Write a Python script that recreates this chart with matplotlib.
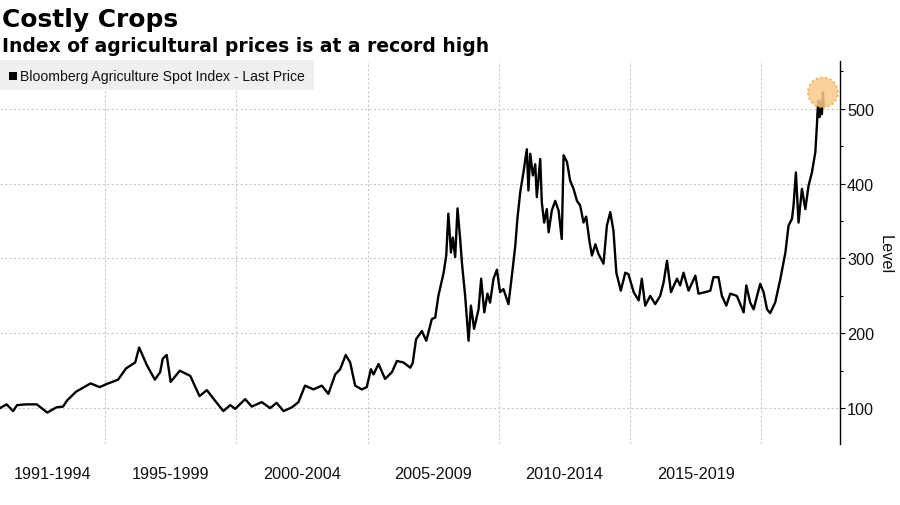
import numpy as np
import matplotlib.pyplot as plt
from matplotlib.patches import Rectangle

# Bloomberg Agriculture Spot Index (decimal year, level)
years = [1991.0, 1991.25, 1991.5, 1991.65, 1992.0, 1992.4, 1992.8, 1993.15, 1993.4, 1993.55,
         1993.9, 1994.3, 1994.45, 1994.8, 1995.05, 1995.5, 1995.8, 1996.15, 1996.3, 1996.6,
         1996.9, 1997.1, 1997.2, 1997.35, 1997.5, 1997.85, 1998.25, 1998.6, 1998.88, 1999.19,
         1999.51, 1999.77, 1999.96, 2000.34, 2000.59, 2000.97, 2001.29, 2001.54, 2001.8, 2002.12,
         2002.37, 2002.62, 2002.94, 2003.26, 2003.51, 2003.77, 2003.96, 2004.17, 2004.34, 2004.53,
         2004.78, 2004.97, 2005.13, 2005.23, 2005.42, 2005.67, 2005.93, 2006.12, 2006.37, 2006.63,
         2006.72, 2006.85, 2007.07, 2007.24, 2007.45, 2007.58, 2007.7, 2007.9, 2008.0, 2008.08,
         2008.18, 2008.25, 2008.34, 2008.43, 2008.53, 2008.6, 2008.72, 2008.79, 2008.85, 2008.94,
         2009.06, 2009.23, 2009.33, 2009.45, 2009.57, 2009.67, 2009.8, 2009.93, 2010.05, 2010.18,
         2010.37, 2010.5, 2010.63, 2010.71, 2010.82, 2010.94, 2011.07, 2011.13, 2011.2, 2011.3,
         2011.39, 2011.45, 2011.58, 2011.64, 2011.73, 2011.83, 2011.9, 2012.02, 2012.15, 2012.28,
         2012.4, 2012.47, 2012.6, 2012.72, 2012.85, 2012.98, 2013.1, 2013.23, 2013.33, 2013.46,
         2013.55, 2013.68, 2013.8, 2013.99, 2014.12, 2014.25, 2014.37, 2014.48, 2014.65, 2014.82,
         2014.94, 2015.14, 2015.33, 2015.45, 2015.58, 2015.77, 2015.96, 2016.15, 2016.28, 2016.41,
         2016.56, 2016.79, 2016.91, 2017.04, 2017.23, 2017.49, 2017.61, 2017.87, 2018.06, 2018.18,
         2018.37, 2018.5, 2018.67, 2018.82, 2019.07, 2019.33, 2019.43, 2019.58, 2019.71, 2019.84,
         2019.96, 2020.09, 2020.22, 2020.34, 2020.53, 2020.73, 2020.92, 2021.04, 2021.17, 2021.23,
         2021.32, 2021.42, 2021.55, 2021.68, 2021.8, 2021.93, 2022.06, 2022.12, 2022.15, 2022.19,
         2022.22, 2022.28, 2022.31, 2022.35, 2022.38]
index_level = [100, 105, 96, 104, 105, 105, 94, 101, 102, 110,
               122, 130, 133, 128, 132, 138, 153, 161, 181, 157,
               138, 148, 166, 171, 135, 150, 143, 116, 124, 110,
               96, 104, 99, 112, 102, 108, 100, 107, 96, 101,
               108, 130, 125, 130, 119, 145, 152, 171, 161, 130,
               125, 128, 152, 145, 159, 139, 148, 163, 161, 154,
               160, 192, 203, 190, 219, 221, 250, 281, 304, 360,
               308, 328, 302, 367, 326, 293, 250, 217, 190, 237,
               206, 232, 273, 228, 253, 241, 273, 285, 255, 259,
               239, 277, 317, 353, 389, 415, 446, 391, 440, 411,
               426, 382, 433, 375, 348, 366, 335, 364, 377, 364,
               326, 438, 429, 404, 393, 377, 371, 348, 356, 322,
               304, 319, 306, 293, 344, 362, 337, 281, 257, 281,
               279, 255, 244, 273, 237, 250, 239, 250, 268, 297,
               255, 273, 264, 281, 257, 277, 253, 255, 257, 275,
               275, 250, 237, 253, 250, 228, 264, 241, 232, 250,
               266, 255, 232, 227, 241, 273, 308, 344, 353, 371,
               415, 348, 393, 366, 397, 415, 442, 478, 500, 511,
               489, 509, 493, 522, 504]

grid_years = [1995, 2000, 2005, 2010, 2015, 2020]
period_mid = [1993, 1997.5, 2002.5, 2007.5, 2012.5, 2017.5]
period_labels = ['1991-1994', '1995-1999', '2000-2004', '2005-2009', '2010-2014', '2015-2019']
level_ticks = [100, 200, 300, 400, 500]
level_minor = [150, 250, 350, 450, 550]

tick_font = ['Liberation Sans', 'DejaVu Sans']

fig = plt.figure(figsize=(9, 5.06), dpi=100)
ax = fig.add_axes([0, 1 - 445 / 506, 840 / 900, (445 - 62) / 506])

# legend strip (drawn first so the grid shows over it)
fig.patches.append(Rectangle((0, 1 - 91 / 506), 314 / 900, 30 / 506, transform=fig.transFigure,
                             facecolor='#efefef', edgecolor='none', zorder=0))
# legend key square
fig.patches.append(Rectangle((9 / 900, 1 - 81 / 506), 8 / 900, 8 / 506, transform=fig.transFigure,
                             facecolor='black', edgecolor='none', zorder=2))

ax.set_facecolor('none')
ax.plot(years, index_level, color='black', lw=1.7, zorder=3, solid_joinstyle='round')

peak = int(np.argmax(index_level))
ax.scatter([years[peak]], [index_level[peak]], s=470, facecolor='#fbc98a', edgecolor='#f0a030',
           linestyle=':', linewidth=1.3, alpha=0.85, zorder=4)

ax.set_xlim(1991.0, 2023.0)
ax.set_ylim(52, 564)

ax.set_xticks(grid_years)
ax.set_xticklabels([])
ax.set_xticks(period_mid, minor=True, labels=period_labels)
ax.tick_params(axis='x', which='both', length=0, pad=15.5)
for lab in ax.get_xticklabels(minor=True):
    lab.set_family(tick_font)
    lab.set_fontsize(11.7)
    lab.set_color('#111111')

ax.yaxis.tick_right()
ax.set_yticks(level_ticks)
ax.set_yticks(level_minor, minor=True)
ax.tick_params(axis='y', which='major', direction='out', length=3.6, width=0.8, pad=1.5,
               labelsize=11.7, labelcolor='#111111')
ax.tick_params(axis='y', which='minor', direction='out', length=1.8, width=0.8)
for lab in ax.get_yticklabels():
    lab.set_family(tick_font)

ax.grid(True, which='major', linestyle=(0, (2, 2)), color='#c8c8c8', linewidth=0.8, zorder=1)

for side in ['left', 'top', 'bottom']:
    ax.spines[side].set_visible(False)
ax.spines['right'].set_linewidth(1.0)

fig.text(885 / 900, 1 - 255 / 506, 'Level', rotation=270, ha='center', va='center',
         fontsize=11.7, family=tick_font, color='#111111')

# titles
fig.text(0.002, 1 - 27 / 506, 'Costly Crops', fontsize=17.9, fontweight='bold',
         va='baseline', ha='left')
fig.text(0.002, 1 - 51.5 / 506, 'Index of agricultural prices is at a record high', fontsize=13.5,
         fontweight='bold', va='baseline', ha='left')

# legend entry
fig.text(20.5 / 900, 1 - 77 / 506, 'Bloomberg Agriculture Spot Index - Last Price', fontsize=10.1,
         va='center', ha='left', family=['Liberation Sans Narrow', 'Liberation Sans', 'DejaVu Sans'],
         color='#111111')

plt.savefig('out.png', dpi=100)
